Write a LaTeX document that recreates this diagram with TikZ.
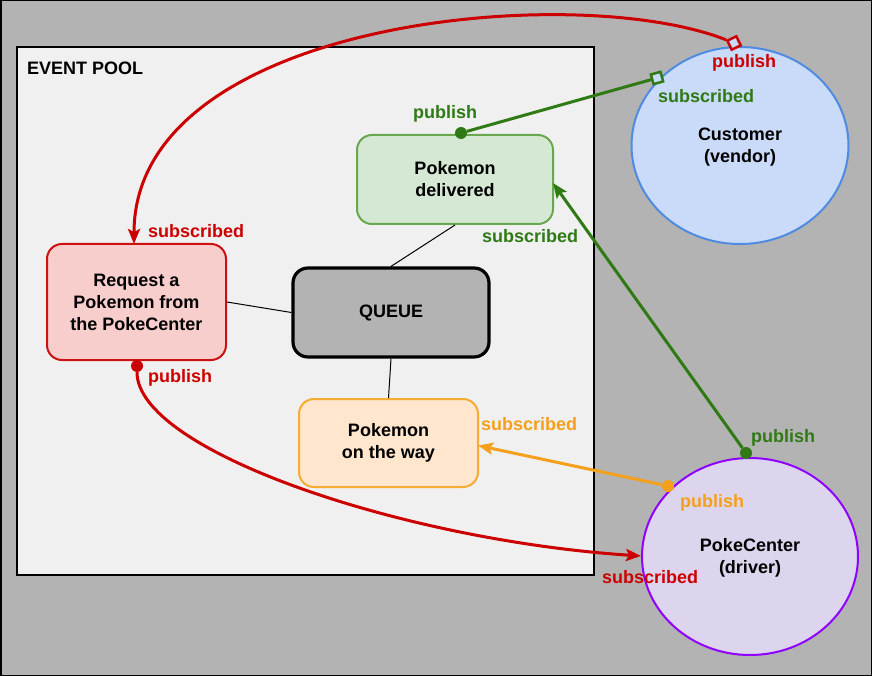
\documentclass[tikz,border=0pt]{standalone}
\usepackage{fontspec}
\setmainfont{Liberation Sans}
\usetikzlibrary{arrows.meta,shapes.geometric}
\definecolor{bggray}{HTML}{B3B3B3}
\definecolor{poolfill}{HTML}{F0F0F0}
\definecolor{cred}{HTML}{CC0000}
\definecolor{cgreen}{HTML}{2F7A14}
\definecolor{corange}{HTML}{F5A01A}
\definecolor{delfill}{HTML}{D5E8D4}
\definecolor{deldraw}{HTML}{6AA84F}
\definecolor{reqfill}{HTML}{F8CECC}
\definecolor{reqdraw}{HTML}{CC1111}
\definecolor{wayfill}{HTML}{FFE6CC}
\definecolor{waydraw}{HTML}{F5AC33}
\definecolor{custfill}{HTML}{C9DBF8}
\definecolor{custdraw}{HTML}{4F8BE0}
\definecolor{pokefill}{HTML}{DDD5ED}
\definecolor{pokedraw}{HTML}{9000FF}
\begin{document}
\begin{tikzpicture}[x=1pt,y=-1pt,
  font=\fontsize{18}{22}\selectfont\bfseries,
  box/.style={rectangle, rounded corners=15pt, line width=2pt, align=center, inner sep=0pt},
  oval/.style={ellipse, line width=2pt, align=center, inner sep=0pt},
  lbl/.style={anchor=base west, inner sep=0pt},
  conn/.style={line width=3pt},
  arr/.style={-{Stealth[length=15pt,width=12pt,inset=3pt]}},
  dotm/.style={circle, inner sep=0pt, minimum size=12pt},
  hollow/.style={rectangle, draw, line width=2.5pt, minimum size=10pt, inner sep=0pt, fill=custfill},
  thin/.style={line width=1pt, draw=black}]
\useasboundingbox (0,0) rectangle (872,676);
\draw[fill=bggray, draw=black, line width=1.5pt] (0.75,0.75) rectangle (871.25,675.25);
% event pool
\node[rectangle, draw=black, fill=poolfill, line width=2pt, minimum width=577pt, minimum height=528pt, inner sep=0pt] (pool) at (305.5,311) {};
\node[lbl] (pooltitle) at (27,75) {EVENT POOL};
% nodes
\node[box, draw=deldraw, fill=delfill, minimum width=196pt, minimum height=89pt] (deliv) at (455,179.5) {Pokemon\\delivered};
\node[box, draw=reqdraw, fill=reqfill, minimum width=179pt, minimum height=116pt] (req) at (136.5,302) {Request a\\Pokemon from\\the PokeCenter};
\node[box, draw=black, fill=bggray, line width=3.2pt, minimum width=196pt, minimum height=89pt] (queue) at (391,312.5) {QUEUE};
\node[box, draw=waydraw, fill=wayfill, minimum width=179pt, minimum height=88pt] (way) at (388.5,443) {Pokemon\\on the way};
\node[oval, draw=custdraw, fill=custfill, minimum width=217pt, minimum height=197pt] (cust) at (740,145.5) {};
\node[align=center, inner sep=0pt] (custtext) at (740,147.5) {Customer\\(vendor)};
\node[oval, draw=pokedraw, fill=pokefill, minimum width=216pt, minimum height=197pt] (poke) at (750,556.5) {};
\node[align=center, inner sep=0pt] (poketext) at (750,558) {PokeCenter\\(driver)};
% queue links
\draw[thin] (deliv.south) -- (queue.north);
\draw[thin] (req.east) -- (queue.west);
\draw[thin] (queue.south) -- (way.north);
% markers
\node[hollow, draw=cred, rotate=25.4] (rd) at (734,43) {};
\node[hollow, draw=cgreen, rotate=15.7] (gs) at (657,78) {};
\node[dotm, fill=cgreen] (gp1) at (461,133) {};
\node[dotm, fill=cgreen] (gp2) at (746,453) {};
\node[dotm, fill=corange] (op) at (668,486) {};
\node[dotm, fill=cred] (rp) at (137,366) {};
\coordinate (rt1) at (134,244);
\coordinate (rt2) at (641,556);
\coordinate (gt) at (553,183);
\coordinate (ot) at (478,445.5);
% connectors
\draw[conn, cred, arr] (rd) .. controls (575,-20) and (134,20) .. (rt1);
\draw[conn, cred, arr] (rp) .. controls (137,450) and (400,540) .. (rt2);
\draw[conn, cgreen] (gp1) -- (gs);
\draw[conn, cgreen, arr] (gp2) -- (gt);
\draw[conn, corange, arr] (op) -- (ot);
% labels
\node[lbl, text=cred] (l1) at (712,68) {publish};
\node[lbl, text=cgreen] (l2) at (658,103) {subscribed};
\node[lbl, text=cgreen] (l3) at (413,119) {publish};
\node[lbl, text=cgreen] (l4) at (482,243) {subscribed};
\node[lbl, text=cred] (l5) at (148,237) {subscribed};
\node[lbl, text=cred] (l6) at (148,382) {publish};
\node[lbl, text=corange] (l7) at (481,430) {subscribed};
\node[lbl, text=corange] (l8) at (680,507) {publish};
\node[lbl, text=cgreen] (l9) at (751,442) {publish};
\node[lbl, text=cred] (l10) at (602,583) {subscribed};
\end{tikzpicture}
\end{document}
